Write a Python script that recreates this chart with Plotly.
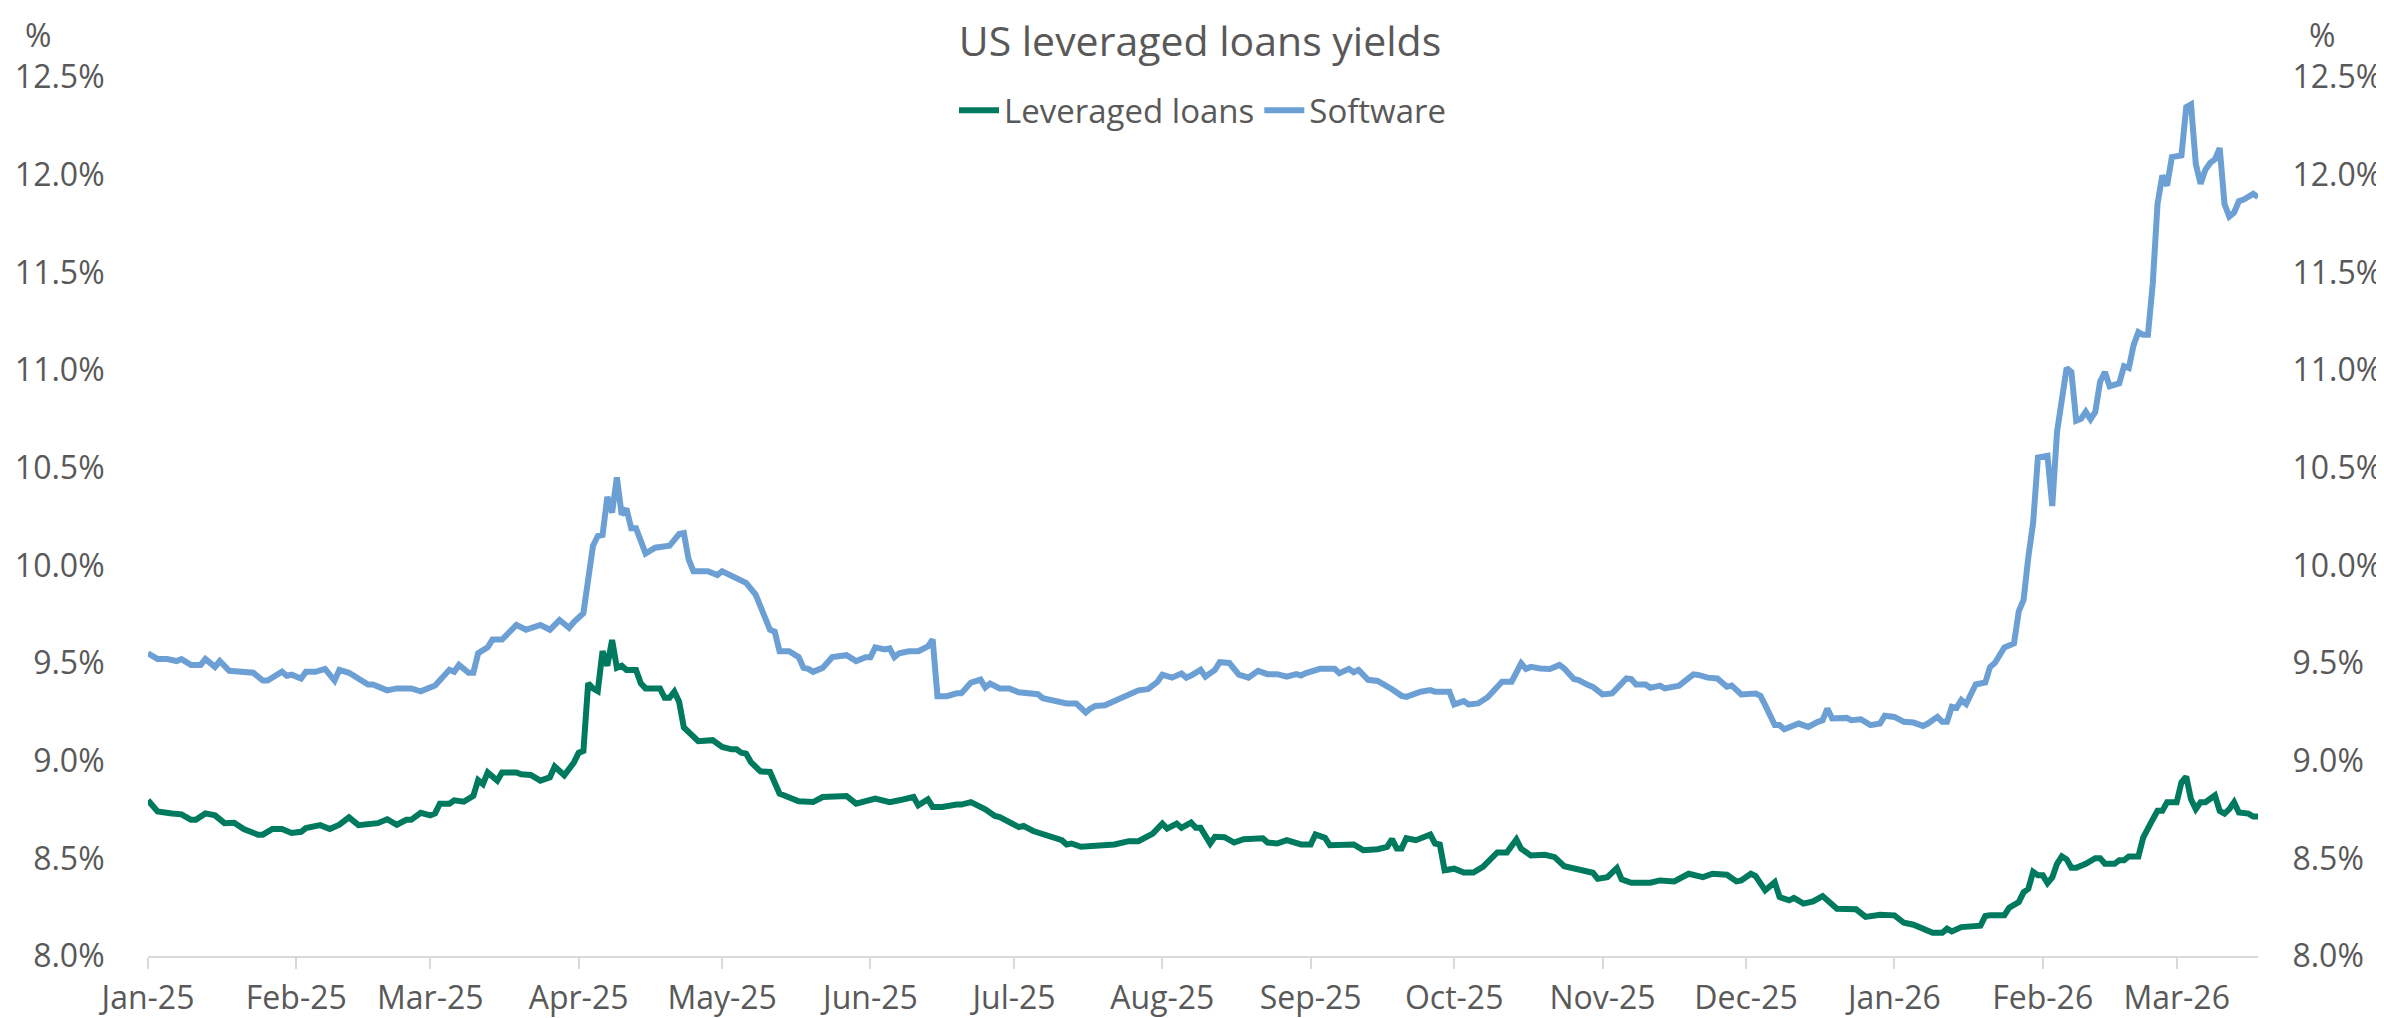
import plotly.graph_objects as go

# ---------------- data ----------------
software_dates = [
    "2025-01-01","2025-01-03","2025-01-05","2025-01-07","2025-01-08","2025-01-10","2025-01-12","2025-01-13",
    "2025-01-15","2025-01-16","2025-01-18","2025-01-20","2025-01-22","2025-01-23","2025-01-25","2025-01-26",
    "2025-01-29","2025-01-30","2025-01-31","2025-02-02","2025-02-03","2025-02-05","2025-02-07","2025-02-09",
    "2025-02-10","2025-02-12","2025-02-16","2025-02-17","2025-02-20","2025-02-22","2025-02-24","2025-02-25",
    "2025-02-27","2025-03-01","2025-03-02","2025-03-05","2025-03-06","2025-03-07","2025-03-09","2025-03-10",
    "2025-03-11","2025-03-13","2025-03-14","2025-03-16","2025-03-19","2025-03-21","2025-03-24","2025-03-26",
    "2025-03-28","2025-03-30","2025-03-31","2025-04-02","2025-04-04","2025-04-05","2025-04-06","2025-04-07",
    "2025-04-08","2025-04-09","2025-04-10","2025-04-11","2025-04-12","2025-04-13","2025-04-15","2025-04-17",
    "2025-04-20","2025-04-22","2025-04-23","2025-04-24","2025-04-25","2025-04-28","2025-04-30","2025-05-01",
    "2025-05-03","2025-05-04","2025-05-06","2025-05-08","2025-05-09","2025-05-11","2025-05-12","2025-05-13",
    "2025-05-15","2025-05-17","2025-05-18","2025-05-19","2025-05-20","2025-05-22","2025-05-24","2025-05-27",
    "2025-05-29","2025-05-31","2025-06-01","2025-06-02","2025-06-04","2025-06-05","2025-06-06","2025-06-07",
    "2025-06-09","2025-06-11","2025-06-13","2025-06-14","2025-06-15","2025-06-17","2025-06-19","2025-06-20",
    "2025-06-22","2025-06-24","2025-06-25","2025-06-26","2025-06-28","2025-06-30","2025-07-02","2025-07-06",
    "2025-07-07","2025-07-10","2025-07-12","2025-07-14","2025-07-16","2025-07-17","2025-07-18","2025-07-20",
    "2025-07-22","2025-07-24","2025-07-27","2025-07-29","2025-07-31","2025-08-01","2025-08-03","2025-08-05",
    "2025-08-06","2025-08-07","2025-08-09","2025-08-10","2025-08-12","2025-08-13","2025-08-15","2025-08-17",
    "2025-08-19","2025-08-21","2025-08-23","2025-08-25","2025-08-27","2025-08-29","2025-08-30","2025-08-31",
    "2025-09-03","2025-09-06","2025-09-07","2025-09-09","2025-09-10","2025-09-11","2025-09-13","2025-09-15",
    "2025-09-17","2025-09-18","2025-09-20","2025-09-21","2025-09-24","2025-09-26","2025-09-27","2025-09-30",
    "2025-10-01","2025-10-03","2025-10-04","2025-10-06","2025-10-08","2025-10-11","2025-10-13","2025-10-15",
    "2025-10-16","2025-10-17","2025-10-19","2025-10-21","2025-10-23","2025-10-24","2025-10-26","2025-10-27",
    "2025-10-29","2025-10-30","2025-11-01","2025-11-03","2025-11-04","2025-11-06","2025-11-07","2025-11-08",
    "2025-11-10","2025-11-11","2025-11-13","2025-11-14","2025-11-17","2025-11-20","2025-11-21","2025-11-23",
    "2025-11-25","2025-11-27","2025-11-28","2025-11-29","2025-11-30","2025-12-03","2025-12-04","2025-12-05",
    "2025-12-07","2025-12-08","2025-12-09","2025-12-12","2025-12-14","2025-12-16","2025-12-17","2025-12-18",
    "2025-12-19","2025-12-22","2025-12-23","2025-12-25","2025-12-27","2025-12-29","2025-12-30","2026-01-01",
    "2026-01-03","2026-01-05","2026-01-07","2026-01-08","2026-01-10","2026-01-11","2026-01-12","2026-01-13",
    "2026-01-14","2026-01-15","2026-01-16","2026-01-18","2026-01-20","2026-01-21","2026-01-22","2026-01-24",
    "2026-01-26","2026-01-27","2026-01-28","2026-01-29","2026-01-30","2026-01-31","2026-02-02","2026-02-03",
    "2026-02-04","2026-02-06","2026-02-07","2026-02-08","2026-02-09","2026-02-10","2026-02-11","2026-02-12",
    "2026-02-13","2026-02-14","2026-02-15","2026-02-17","2026-02-18","2026-02-19","2026-02-20","2026-02-21",
    "2026-02-22","2026-02-23","2026-02-24","2026-02-25","2026-02-26","2026-02-27","2026-02-28","2026-03-02",
    "2026-03-03","2026-03-04","2026-03-05","2026-03-06","2026-03-07","2026-03-08","2026-03-09","2026-03-10",
    "2026-03-11","2026-03-12","2026-03-13","2026-03-14","2026-03-15","2026-03-17","2026-03-18",
]
software_values = [
    9.55, 9.52, 9.52, 9.51, 9.52, 9.49, 9.49, 9.52,
    9.48, 9.51, 9.46, 9.455, 9.45, 9.45, 9.41, 9.41,
    9.455, 9.435, 9.44, 9.42, 9.455, 9.455, 9.47, 9.41,
    9.465, 9.45, 9.39, 9.39, 9.36, 9.37, 9.37, 9.37,
    9.355, 9.38, 9.385, 9.465, 9.455, 9.49, 9.45, 9.45,
    9.55, 9.58, 9.62, 9.62, 9.695, 9.67, 9.695, 9.67,
    9.72, 9.68, 9.71, 9.755, 10.10, 10.15, 10.155, 10.35,
    10.27, 10.45, 10.26, 10.29, 10.19, 10.19, 10.06, 10.09,
    10.10, 10.16, 10.165, 10.03, 9.97, 9.97, 9.95, 9.97,
    9.945, 9.94, 9.91, 9.85, 9.79, 9.67, 9.66, 9.56,
    9.56, 9.53, 9.475, 9.47, 9.455, 9.475, 9.53, 9.54,
    9.51, 9.53, 9.53, 9.58, 9.57, 9.575, 9.53, 9.55,
    9.56, 9.56, 9.585, 9.62, 9.33, 9.33, 9.345, 9.345,
    9.40, 9.415, 9.375, 9.395, 9.37, 9.37, 9.35, 9.34,
    9.32, 9.30, 9.293, 9.293, 9.247, 9.267, 9.28, 9.284,
    9.305, 9.327, 9.36, 9.366, 9.404, 9.44, 9.425, 9.446,
    9.425, 9.436, 9.465, 9.43, 9.465, 9.504, 9.50, 9.44,
    9.425, 9.46, 9.443, 9.443, 9.43, 9.443, 9.436, 9.448,
    9.47, 9.47, 9.448, 9.47, 9.453, 9.465, 9.414, 9.408,
    9.384, 9.366, 9.332, 9.327, 9.353, 9.361, 9.353, 9.353,
    9.288, 9.305, 9.288, 9.293, 9.325, 9.404, 9.404, 9.498,
    9.47, 9.48, 9.472, 9.469, 9.49, 9.472, 9.418, 9.413,
    9.387, 9.378, 9.339, 9.344, 9.37, 9.421, 9.418, 9.39,
    9.39, 9.373, 9.384, 9.37, 9.384, 9.442, 9.439, 9.425,
    9.421, 9.378, 9.384, 9.366, 9.339, 9.344, 9.332, 9.284,
    9.182, 9.182, 9.161, 9.19, 9.173, 9.199, 9.207, 9.267,
    9.216, 9.219, 9.207, 9.212, 9.182, 9.19, 9.23, 9.224,
    9.199, 9.195, 9.178, 9.19, 9.224, 9.199, 9.199, 9.276,
    9.27, 9.31, 9.29, 9.39, 9.40, 9.48, 9.50, 9.58,
    9.60, 9.765, 9.823, 10.042, 10.217, 10.552, 10.561, 10.304,
    10.683, 11.01, 10.99, 10.74, 10.75, 10.786, 10.748, 10.786,
    10.94, 10.99, 10.917, 10.932, 11.019, 11.01, 11.127, 11.194,
    11.18, 11.18, 11.442, 11.85, 11.996, 11.944, 12.09, 12.098,
    12.346, 12.36, 12.055, 11.953, 12.025, 12.06, 12.078, 12.136,
    11.85, 11.786, 11.806, 11.864, 11.873, 11.902, 11.885,
]

loans_dates = [
    "2025-01-01","2025-01-03","2025-01-06","2025-01-08","2025-01-10","2025-01-11","2025-01-13","2025-01-15",
    "2025-01-17","2025-01-19","2025-01-21","2025-01-24","2025-01-25","2025-01-27","2025-01-29","2025-01-31",
    "2025-02-02","2025-02-03","2025-02-06","2025-02-08","2025-02-10","2025-02-12","2025-02-14","2025-02-18",
    "2025-02-20","2025-02-22","2025-02-24","2025-02-25","2025-02-27","2025-03-01","2025-03-02","2025-03-03",
    "2025-03-05","2025-03-06","2025-03-08","2025-03-10","2025-03-11","2025-03-12","2025-03-13","2025-03-15",
    "2025-03-16","2025-03-19","2025-03-20","2025-03-22","2025-03-24","2025-03-26","2025-03-27","2025-03-29",
    "2025-03-31","2025-04-01","2025-04-02","2025-04-03","2025-04-04","2025-04-05","2025-04-06","2025-04-07",
    "2025-04-08","2025-04-09","2025-04-10","2025-04-11","2025-04-13","2025-04-14","2025-04-15","2025-04-18",
    "2025-04-19","2025-04-20","2025-04-21","2025-04-22","2025-04-23","2025-04-24","2025-04-26","2025-04-29",
    "2025-05-01","2025-05-03","2025-05-04","2025-05-05","2025-05-06","2025-05-07","2025-05-09","2025-05-11",
    "2025-05-13","2025-05-14","2025-05-17","2025-05-20","2025-05-22","2025-05-27","2025-05-29","2025-06-02",
    "2025-06-05","2025-06-07","2025-06-10","2025-06-11","2025-06-13","2025-06-14","2025-06-16","2025-06-19",
    "2025-06-20","2025-06-22","2025-06-25","2025-06-27","2025-06-28","2025-07-02","2025-07-03","2025-07-05",
    "2025-07-07","2025-07-11","2025-07-12","2025-07-13","2025-07-15","2025-07-19","2025-07-22","2025-07-25",
    "2025-07-27","2025-07-30","2025-08-01","2025-08-02","2025-08-04","2025-08-05","2025-08-07","2025-08-08",
    "2025-08-09","2025-08-11","2025-08-12","2025-08-14","2025-08-16","2025-08-18","2025-08-22","2025-08-23",
    "2025-08-25","2025-08-27","2025-08-30","2025-09-01","2025-09-02","2025-09-04","2025-09-05","2025-09-10",
    "2025-09-12","2025-09-15","2025-09-17","2025-09-18","2025-09-19","2025-09-20","2025-09-21","2025-09-23",
    "2025-09-26","2025-09-27","2025-09-28","2025-09-29","2025-10-01","2025-10-03","2025-10-05","2025-10-07",
    "2025-10-08","2025-10-10","2025-10-12","2025-10-14","2025-10-15","2025-10-17","2025-10-20","2025-10-22",
    "2025-10-24","2025-10-25","2025-10-28","2025-10-30","2025-10-31","2025-11-02","2025-11-04","2025-11-05",
    "2025-11-07","2025-11-11","2025-11-13","2025-11-16","2025-11-19","2025-11-22","2025-11-24","2025-11-27",
    "2025-11-29","2025-11-30","2025-12-02","2025-12-03","2025-12-05","2025-12-07","2025-12-08","2025-12-10",
    "2025-12-11","2025-12-13","2025-12-15","2025-12-17","2025-12-20","2025-12-24","2025-12-26","2025-12-29",
    "2026-01-01","2026-01-03","2026-01-05","2026-01-07","2026-01-09","2026-01-11","2026-01-12","2026-01-13",
    "2026-01-15","2026-01-19","2026-01-20","2026-01-21","2026-01-22","2026-01-24","2026-01-25","2026-01-27",
    "2026-01-28","2026-01-29","2026-01-30","2026-01-31","2026-02-01","2026-02-02","2026-02-03","2026-02-04",
    "2026-02-05","2026-02-06","2026-02-07","2026-02-08","2026-02-10","2026-02-12","2026-02-13","2026-02-14",
    "2026-02-16","2026-02-17","2026-02-18","2026-02-19","2026-02-21","2026-02-22","2026-02-24","2026-02-25",
    "2026-02-26","2026-02-27","2026-03-01","2026-03-02","2026-03-03","2026-03-04","2026-03-05","2026-03-06",
    "2026-03-07","2026-03-09","2026-03-10","2026-03-11","2026-03-12","2026-03-13","2026-03-14","2026-03-16",
    "2026-03-17","2026-03-18",
]
loans_values = [
    8.797, 8.74, 8.73, 8.725, 8.697, 8.697, 8.73, 8.72,
    8.68, 8.682, 8.65, 8.621, 8.621, 8.65, 8.65, 8.63,
    8.636, 8.655, 8.67, 8.65, 8.672, 8.71, 8.67, 8.68,
    8.70, 8.672, 8.697, 8.697, 8.733, 8.72, 8.73, 8.78,
    8.78, 8.797, 8.79, 8.82, 8.90, 8.88, 8.94, 8.898,
    8.94, 8.94, 8.93, 8.927, 8.898, 8.915, 8.97, 8.925,
    8.99, 9.04, 9.05, 9.396, 9.37, 9.356, 9.561, 9.486,
    9.618, 9.476, 9.486, 9.464, 9.464, 9.396, 9.37, 9.37,
    9.322, 9.322, 9.353, 9.302, 9.17, 9.144, 9.10, 9.105,
    9.07, 9.058, 9.058, 9.041, 9.036, 8.993, 8.945, 8.942,
    8.831, 8.822, 8.792, 8.788, 8.814, 8.819, 8.78, 8.806,
    8.788, 8.797, 8.814, 8.771, 8.802, 8.763, 8.763, 8.775,
    8.775, 8.788, 8.751, 8.717, 8.711, 8.66, 8.666, 8.64,
    8.622, 8.593, 8.571, 8.576, 8.559, 8.564, 8.571, 8.588,
    8.588, 8.627, 8.678, 8.652, 8.678, 8.656, 8.683, 8.656,
    8.656, 8.576, 8.61, 8.608, 8.581, 8.598, 8.603, 8.581,
    8.576, 8.593, 8.571, 8.571, 8.622, 8.605, 8.567, 8.571,
    8.542, 8.547, 8.559, 8.598, 8.55, 8.55, 8.603, 8.593,
    8.622, 8.576, 8.571, 8.439, 8.447, 8.427, 8.427, 8.456,
    8.48, 8.53, 8.53, 8.597, 8.549, 8.515, 8.518, 8.506,
    8.46, 8.455, 8.438, 8.426, 8.395, 8.404, 8.45, 8.392,
    8.375, 8.375, 8.387, 8.382, 8.421, 8.404, 8.421, 8.416,
    8.382, 8.387, 8.421, 8.409, 8.336, 8.378, 8.302, 8.285,
    8.297, 8.268, 8.28, 8.307, 8.242, 8.239, 8.2, 8.211,
    8.208, 8.17, 8.16, 8.143, 8.119, 8.119, 8.14, 8.126,
    8.148, 8.155, 8.205, 8.209, 8.211, 8.209, 8.247, 8.276,
    8.326, 8.344, 8.431, 8.414, 8.414, 8.373, 8.402, 8.472,
    8.51, 8.495, 8.452, 8.452, 8.472, 8.501, 8.501, 8.472,
    8.472, 8.49, 8.49, 8.51, 8.51, 8.606, 8.699, 8.743,
    8.743, 8.787, 8.787, 8.889, 8.918, 8.802, 8.752, 8.787,
    8.787, 8.822, 8.743, 8.729, 8.752, 8.787, 8.735, 8.729,
    8.714, 8.714,
]

series_names = ["Leveraged loans", "Software"]
series_colors = ["#007A5E", "#6CA0D4"]
title_text = "US leveraged loans yields"
y_ticks = [8.0, 8.5, 9.0, 9.5, 10.0, 10.5, 11.0, 11.5, 12.0, 12.5]
y_tick_labels = ["8.0%", "8.5%", "9.0%", "9.5%", "10.0%", "10.5%", "11.0%", "11.5%", "12.0%", "12.5%"]
x_range = ["2025-01-01", "2026-03-18"]

FONT = "Open Sans"
GREY = "#595959"
TICK_SIZE = 32

fig = go.Figure()
fig.add_trace(go.Scatter(x=loans_dates, y=loans_values, mode="lines", name=series_names[0],
                         line=dict(color=series_colors[0], width=6)))
fig.add_trace(go.Scatter(x=software_dates, y=software_values, mode="lines", name=series_names[1],
                         line=dict(color=series_colors[1], width=6)))
# invisible companion trace so that the right-hand axis is drawn
fig.add_trace(go.Scatter(x=loans_dates, y=loans_values, mode="lines", yaxis="y2",
                         line=dict(color="rgba(0,0,0,0)", width=0), showlegend=False,
                         hoverinfo="skip"))

yaxis_common = dict(
    range=[y_ticks[0], y_ticks[-1]], tickmode="array", tickvals=y_ticks, ticktext=y_tick_labels,
    showgrid=False, zeroline=False, showline=False,
    ticks="outside", tickcolor="rgba(0,0,0,0)", automargin=False,
    tickfont=dict(family=FONT, size=TICK_SIZE, color=GREY),
)

fig.update_layout(
    width=2384, height=1018,
    paper_bgcolor="white", plot_bgcolor="white",
    margin=dict(l=140, r=134, t=69, b=70),
    font=dict(family=FONT, color=GREY),
    title=dict(text=title_text, x=0.5, xanchor="center", y=1 - 34 / 1018, yanchor="middle",
               font=dict(family=FONT, size=41, color=GREY)),
    showlegend=True,
    legend=dict(orientation="h", x=0.5, xanchor="center", y=0.962, yanchor="middle",
                font=dict(family=FONT, size=33, color=GREY), bgcolor="rgba(0,0,0,0)",
                itemwidth=40, traceorder="normal"),
    xaxis=dict(
        type="date", range=x_range, tick0="2025-01-01", dtick="M1", tickformat="%b-%y",
        showgrid=False, zeroline=False, showline=True, linecolor="#D9D9D9", linewidth=2,
        ticks="outside", ticklen=11, tickcolor="#D9D9D9", tickwidth=2, automargin=False,
        tickfont=dict(family=FONT, size=TICK_SIZE, color=GREY), ticklabelstandoff=2,
    ),
    yaxis=dict(**yaxis_common, side="left", ticklen=36),
    yaxis2=dict(**yaxis_common, side="right", overlaying="y", anchor="x", ticklen=27),
)

fig.add_annotation(text="%", xref="paper", yref="paper", x=(30 - 140) / 2110, y=(948 - 26) / 879,
                   showarrow=False, xanchor="center", yanchor="middle",
                   font=dict(family=FONT, size=TICK_SIZE, color=GREY))
fig.add_annotation(text="%", xref="paper", yref="paper", x=(2314 - 140) / 2110, y=(948 - 26) / 879,
                   showarrow=False, xanchor="center", yanchor="middle",
                   font=dict(family=FONT, size=TICK_SIZE, color=GREY))

fig.write_html("out.html")
